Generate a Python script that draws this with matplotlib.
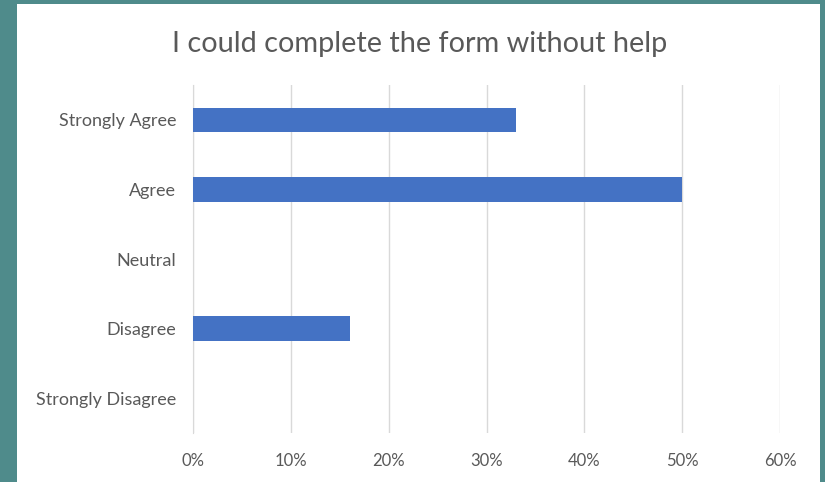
import matplotlib.pyplot as plt
from matplotlib.patches import Rectangle
from matplotlib.ticker import FuncFormatter

# Survey responses
categories = ['Strongly Agree', 'Agree', 'Neutral', 'Disagree', 'Strongly Disagree']
percent = [33, 50, 0, 16, 0]
xticks = [0, 10, 20, 30, 40, 50, 60]

plt.rcParams['font.family'] = ['Lato', 'DejaVu Sans']

fig = plt.figure(figsize=(8.25, 4.82), dpi=100, facecolor='#4F8B8B')
# white chart panel on the teal slide background
fig.patches.append(Rectangle((17 / 825, 0), (820 - 17) / 825, (482 - 4) / 482,
                             transform=fig.transFigure, facecolor='white',
                             edgecolor='none', zorder=-5))

ax = fig.add_axes([193 / 825, (482 - 433) / 482, (780 - 193) / 825, (433 - 85) / 482])
ax.set_facecolor('none')

y = list(range(len(categories)))
ax.barh(y, percent, height=0.35, color='#4472C4', zorder=3)

ax.set_xlim(0, 60)
ax.set_ylim(len(categories) - 0.5, -0.5)
ax.set_xticks(xticks)
ax.xaxis.set_major_formatter(FuncFormatter(lambda v, p: f'{v:.0f}%'))
ax.set_yticks(y)
ax.set_yticklabels(categories)

ax.grid(axis='x', color='#D9D9D9', linewidth=1, zorder=0)
for s in ['top', 'right', 'bottom']:
    ax.spines[s].set_visible(False)
ax.spines['left'].set_color('#D9D9D9')
ax.tick_params(length=0, colors='#595959', labelsize=12)
ax.tick_params(axis='x', pad=14.5)
ax.tick_params(axis='y', pad=12, labelsize=13)

fig.text(420 / 825, 1 - 44 / 482, 'I could complete the form without help',
         ha='center', va='center', fontsize=20.8, color='#595959')

fig.savefig('out.png', dpi=100, facecolor=fig.get_facecolor())
